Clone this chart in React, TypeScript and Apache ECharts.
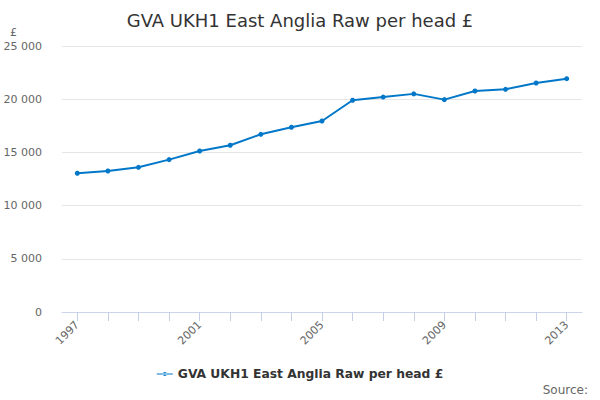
import React, { useEffect, useRef } from "react";
import * as echarts from "echarts";

const years = ["1997","1998","1999","2000","2001","2002","2003","2004","2005","2006","2007","2008","2009","2010","2011","2012","2013"];
const values = [13040, 13250, 13600, 14320, 15130, 15670, 16700, 17360, 17950, 19900, 20200, 20500, 19960, 20770, 20930, 21520, 21930];
const seriesName = "GVA UKH1 East Anglia Raw per head £";
const titleText = "GVA UKH1 East Anglia Raw per head £";
const unitText = "£";
const sourceText = "Source:";

const FONT = "DejaVu Sans, sans-serif";
const fmt = (v: number) => (v === 0 ? "0" : String(v).replace(/\B(?=(\d{3})+(?!\d))/g, " "));

export default function App() {
  const ref = useRef<HTMLDivElement>(null);
  useEffect(() => {
    const chart = echarts.init(ref.current!, null, { renderer: "svg" });
    chart.setOption({
      animation: false,
      textStyle: { fontFamily: FONT },
      title: {
        text: titleText,
        left: "center",
        top: 6,
        textStyle: { fontFamily: FONT, fontSize: 18, fontWeight: "normal", color: "#333333" },
      },
      graphic: [
        { type: "text", left: 10, top: 27, style: { text: unitText, fontFamily: FONT, fontSize: 11, fill: "#666666" } },
        { type: "text", right: 12, top: 384, style: { text: sourceText, fontFamily: FONT, fontSize: 12, fill: "#666666" } },
      ],
      grid: { left: 62, right: 18, top: 46, bottom: 88, containLabel: false },
      legend: {
        data: [seriesName],
        bottom: 15,
        left: "center",
        itemWidth: 16,
        itemHeight: 8,
        itemGap: 5,
        icon: "path://M0,3.5 L16,3.5 L16,4.5 L0,4.5 Z M6,4 a2,2 0 1,0 4,0 a2,2 0 1,0 -4,0",
        textStyle: { fontFamily: FONT, fontSize: 12.3, fontWeight: "bold", color: "#333333" },
      },
      xAxis: {
        type: "category",
        data: years,
        boundaryGap: true,
        axisLine: { lineStyle: { color: "#ccd6eb" } },
        axisTick: { show: true, alignWithLabel: true, interval: 0, length: 9, lineStyle: { color: "#c4cfe6", width: 1 } },
        axisLabel: { interval: 3, rotate: 45, fontFamily: FONT, fontSize: 11, color: "#666666", margin: 11 },
      },
      yAxis: {
        type: "value",
        min: 0,
        max: 25000,
        interval: 5000,
        axisLine: { show: false },
        axisTick: { show: false },
        splitLine: { lineStyle: { color: "#e6e6e6" } },
        axisLabel: { fontFamily: FONT, fontSize: 11, color: "#666666", margin: 20, formatter: fmt },
      },
      series: [
        {
          name: seriesName,
          type: "line",
          data: values,
          symbol: "circle",
          symbolSize: 5,
          lineStyle: { color: "#0077c8", width: 2 },
          itemStyle: { color: "#0077c8" },
        },
      ],
    });
    return () => chart.dispose();
  }, []);
  return <div ref={ref} style={{ width: 600, height: 400, position: "absolute", left: 0, top: 0 }} />;
}
